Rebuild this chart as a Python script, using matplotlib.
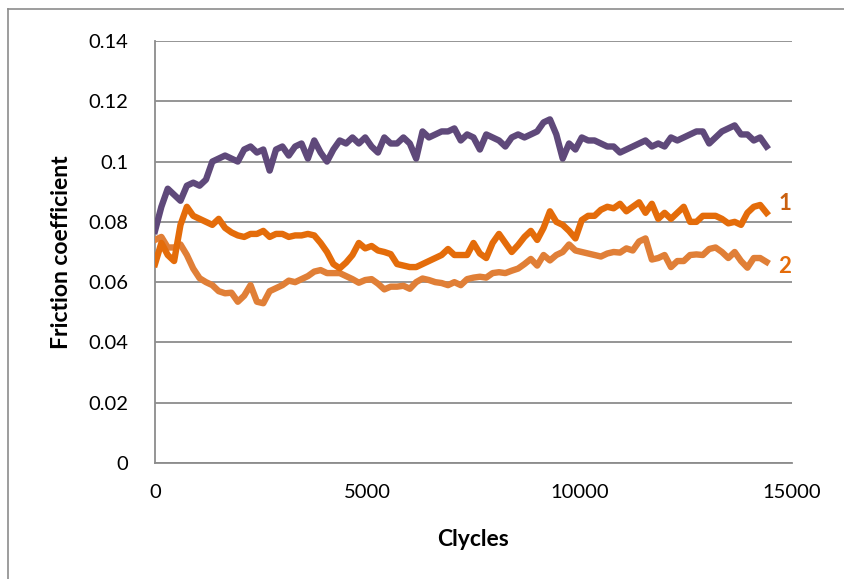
import matplotlib
matplotlib.use("Agg")
import matplotlib.pyplot as plt
from matplotlib.lines import Line2D

plt.rcParams['font.family'] = ['Lato', 'DejaVu Sans']

# sampled cycle positions (every 150 cycles)
cycles = [0, 150, 300, 450, 600, 750, 900, 1050, 1200, 1350,
          1500, 1650, 1800, 1950, 2100, 2250, 2400, 2550, 2700, 2850,
          3000, 3150, 3300, 3450, 3600, 3750, 3900, 4050, 4200, 4350,
          4500, 4650, 4800, 4950, 5100, 5250, 5400, 5550, 5700, 5850,
          6000, 6150, 6300, 6450, 6600, 6750, 6900, 7050, 7200, 7350,
          7500, 7650, 7800, 7950, 8100, 8250, 8400, 8550, 8700, 8850,
          9000, 9150, 9300, 9450, 9600, 9750, 9900, 10050, 10200, 10350,
          10500, 10650, 10800, 10950, 11100, 11250, 11400, 11550, 11700, 11850,
          12000, 12150, 12300, 12450, 12600, 12750, 12900, 13050, 13200, 13350,
          13500, 13650, 13800, 13950, 14100, 14250, 14400]

friction_top = [0.077, 0.085, 0.091, 0.089, 0.087, 0.092, 0.093, 0.092, 0.094, 0.100,
                0.101, 0.102, 0.101, 0.100, 0.104, 0.105, 0.103, 0.104, 0.097, 0.104,
                0.105, 0.102, 0.105, 0.106, 0.101, 0.107, 0.103, 0.100, 0.104, 0.107,
                0.106, 0.108, 0.106, 0.108, 0.105, 0.103, 0.108, 0.106, 0.106, 0.108,
                0.106, 0.101, 0.110, 0.108, 0.109, 0.110, 0.110, 0.111, 0.107, 0.109,
                0.108, 0.104, 0.109, 0.108, 0.107, 0.105, 0.108, 0.109, 0.108, 0.109,
                0.110, 0.113, 0.114, 0.109, 0.101, 0.106, 0.104, 0.108, 0.107, 0.107,
                0.106, 0.105, 0.105, 0.103, 0.104, 0.105, 0.106, 0.107, 0.105, 0.106,
                0.105, 0.108, 0.107, 0.108, 0.109, 0.110, 0.110, 0.106, 0.108, 0.110,
                0.111, 0.112, 0.109, 0.109, 0.107, 0.108, 0.105]

friction_1 = [0.066, 0.073, 0.069, 0.067, 0.079, 0.085, 0.082, 0.081, 0.080, 0.079,
              0.081, 0.078, 0.0765, 0.0755, 0.075, 0.076, 0.076, 0.077, 0.075, 0.076,
              0.076, 0.075, 0.0755, 0.0755, 0.076, 0.0755, 0.073, 0.070, 0.066, 0.0646,
              0.0665, 0.069, 0.073, 0.0712, 0.072, 0.0705, 0.070, 0.0693, 0.066, 0.0655,
              0.065, 0.065, 0.066, 0.067, 0.068, 0.069, 0.071, 0.069, 0.069, 0.069,
              0.073, 0.0695, 0.068, 0.073, 0.076, 0.073, 0.070, 0.0723, 0.075, 0.077,
              0.074, 0.078, 0.0835, 0.080, 0.079, 0.077, 0.0745, 0.0806, 0.082, 0.082,
              0.084, 0.085, 0.0845, 0.086, 0.0835, 0.085, 0.0865, 0.083, 0.086, 0.081,
              0.083, 0.081, 0.083, 0.085, 0.080, 0.080, 0.082, 0.082, 0.082, 0.081,
              0.0795, 0.080, 0.079, 0.083, 0.085, 0.0856, 0.083]

friction_2 = [0.074, 0.075, 0.0715, 0.0715, 0.0725, 0.069, 0.0645, 0.0613, 0.060, 0.059,
              0.057, 0.0563, 0.0565, 0.0535, 0.0555, 0.059, 0.0535, 0.053, 0.057, 0.058,
              0.059, 0.0605, 0.060, 0.061, 0.062, 0.0635, 0.064, 0.063, 0.063, 0.063,
              0.062, 0.061, 0.0598, 0.0607, 0.061, 0.0595, 0.0576, 0.0585, 0.0585, 0.0588,
              0.0578, 0.060, 0.0612, 0.0607, 0.060, 0.0597, 0.059, 0.060, 0.059, 0.061,
              0.0615, 0.0618, 0.0615, 0.063, 0.0633, 0.063, 0.0638, 0.0645, 0.066, 0.0677,
              0.0655, 0.069, 0.0672, 0.069, 0.070, 0.0725, 0.0705, 0.070, 0.0695, 0.069,
              0.0685, 0.0695, 0.070, 0.0698, 0.0712, 0.0705, 0.0735, 0.0745, 0.0675, 0.068,
              0.069, 0.065, 0.067, 0.067, 0.069, 0.0692, 0.069, 0.071, 0.0715, 0.070,
              0.068, 0.070, 0.067, 0.0648, 0.068, 0.068, 0.0667]

y_ticks = [0, 0.02, 0.04, 0.06, 0.08, 0.1, 0.12, 0.14]
y_tick_labels = ['0', '0.02', '0.04', '0.06', '0.08', '0.1', '0.12', '0.14']
x_ticks = [0, 5000, 10000, 15000]

fig = plt.figure(figsize=(8.44, 5.79), dpi=100)
ax = fig.add_axes([155 / 844, 1 - 463 / 579, (792 - 155) / 844, (463 - 41) / 579])

# lines
ax.plot(cycles, friction_2, color='#E07F37', lw=4.6, solid_joinstyle='round', zorder=3)
ax.plot(cycles, friction_1, color='#E46C0A', lw=4.6, solid_joinstyle='round', zorder=4)
ax.plot(cycles, friction_top, color='#5F497A', lw=4.6, solid_joinstyle='round', zorder=5)

# curve labels
ax.text(14830, 0.0862, '1', color='#C9600F', fontsize=16, fontweight='bold',
        ha='center', va='center')
ax.text(14830, 0.0653, '2', color='#E46C0A', fontsize=16, fontweight='bold',
        ha='center', va='center')

ax.set_xlim(0, 15000)
ax.set_ylim(0, 0.14)
ax.set_yticks(y_ticks)
ax.set_yticklabels(y_tick_labels)
ax.set_xticks(x_ticks)
ax.tick_params(length=0, labelsize=14.5)
ax.tick_params(axis='y', pad=19)
ax.tick_params(axis='x', pad=15)

ax.grid(True, axis='y', color='#8C8C8C', lw=1.3, zorder=0)
ax.set_axisbelow(True)
for s in ['top', 'right']:
    ax.spines[s].set_visible(False)
for s in ['left', 'bottom']:
    ax.spines[s].set_color('#8C8C8C')
    ax.spines[s].set_linewidth(1.3)

ax.set_xlabel('Clycles', fontsize=16.5, fontweight='bold', labelpad=20)
ax.set_ylabel('Friction coefficient', fontsize=16.5, fontweight='bold', labelpad=12)

# outer chart frame (left and top edges visible)
fig.add_artist(Line2D([8 / 844, 8 / 844], [0, 1 - 9 / 579], color='#8C8C8C', lw=1.2))
fig.add_artist(Line2D([8 / 844, 1], [1 - 9 / 579, 1 - 9 / 579], color='#8C8C8C', lw=1.2))

fig.savefig('out.png', dpi=100)
